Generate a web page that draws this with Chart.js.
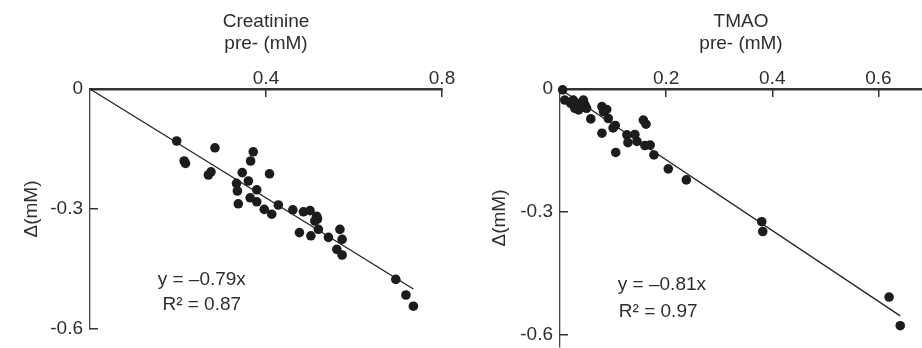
<!DOCTYPE html>
<html>
<head>
<meta charset="utf-8">
<script src="https://cdn.jsdelivr.net/npm/chart.js@4"></script>
<style>
  html, body { margin:0; padding:0; background:#fff; }
  #wrap { position:relative; width:922px; height:348px; overflow:hidden; }
  #wrap canvas { position:absolute; top:0; }
</style>
</head>
<body>
<div id="wrap">
  <canvas id="creatChart" width="461" height="348" style="left:0;"></canvas>
  <canvas id="tmaoChart" width="461" height="348" style="left:461px;"></canvas>
</div>
<script>
// ─── DATA ──────────────────────────────────────────────────
const creatX = [0.197, 0.214, 0.217, 0.284, 0.269, 0.275, 0.371, 0.365, 0.346, 0.408,
                0.333, 0.360, 0.335, 0.379, 0.364, 0.337, 0.379, 0.396, 0.413, 0.428,
                0.461, 0.476, 0.485, 0.500, 0.515, 0.517, 0.511, 0.502, 0.519, 0.542,
                0.568, 0.573, 0.561, 0.573, 0.695, 0.718, 0.735];
const creatY = [-0.130, -0.180, -0.186, -0.147, -0.215, -0.207, -0.157, -0.180, -0.209, -0.212,
                -0.236, -0.230, -0.255, -0.252, -0.272, -0.287, -0.282, -0.301, -0.313, -0.290,
                -0.302, -0.359, -0.307, -0.304, -0.318, -0.325, -0.330, -0.367, -0.351, -0.371,
                -0.351, -0.376, -0.401, -0.415, -0.476, -0.515, -0.543];
const creatFitX = [0, 0.735];
const creatFitY = [0, -0.50];

const tmaoX = [0.005, 0.009, 0.025, 0.031, 0.044, 0.047, 0.028, 0.035, 0.050, 0.058,
               0.079, 0.088, 0.082, 0.091, 0.079, 0.104, 0.105, 0.126, 0.128, 0.141,
               0.145, 0.157, 0.162, 0.160, 0.170, 0.177, 0.204, 0.238, 0.380, 0.382,
               0.620, 0.641, 0.020, 0.040, 0.100];
const tmaoY = [-0.002, -0.027, -0.027, -0.035, -0.027, -0.039, -0.047, -0.051, -0.047, -0.073,
               -0.043, -0.050, -0.055, -0.072, -0.108, -0.089, -0.155, -0.112, -0.131, -0.111,
               -0.128, -0.076, -0.086, -0.138, -0.137, -0.161, -0.195, -0.222, -0.324, -0.348,
               -0.508, -0.578, -0.035, -0.042, -0.095];
const tmaoFitX = [0, 0.641];
const tmaoFitY = [0, -0.554];

const creatXTicks = [0.4, 0.8];
const tmaoXTicks  = [0.2, 0.4, 0.6];
const yTicks      = [0, -0.3, -0.6];

// ─── PANEL ─────────────────────────────────────────────────
const FONT = 'Liberation Sans, Arial, Helvetica, sans-serif';
const INK  = '#2e2e2e';

function toPoints(xs, ys) {
  return xs.map((x, i) => ({ x, y: ys[i] }));
}

function makePanel(id, p) {
  const eqnPlugin = {
    id: 'eqn',
    afterDraw(chart) {
      const { ctx, scales: { x, y } } = chart;
      ctx.save();
      ctx.fillStyle = INK;
      ctx.font = `19px ${FONT}`;
      ctx.textAlign = 'center';
      ctx.textBaseline = 'middle';
      p.eqn.forEach(e => ctx.fillText(e.text, x.getPixelForValue(e.x), y.getPixelForValue(e.y)));
      ctx.restore();
    },
  };

  new Chart(document.getElementById(id), {
    type: 'scatter',
    data: {
      datasets: [
        {
          data: toPoints(p.xs, p.ys),
          backgroundColor: '#1c1c1c',
          borderWidth: 0,
          pointRadius: 4.8,
          clip: false,
        },
        {
          type: 'line',
          data: toPoints(p.fitX, p.fitY),
          borderColor: '#222',
          borderWidth: 1.3,
          pointRadius: 0,
          fill: false,
          clip: false,
        },
      ],
    },
    options: {
      responsive: false,
      animation: false,
      events: [],
      layout: { autoPadding: false, padding: { left: 0, top: 0, right: p.padRight, bottom: p.padBottom } },
      plugins: { legend: { display: false }, tooltip: { enabled: false } },
      scales: {
        x: {
          type: 'linear',
          position: 'top',
          min: 0,
          max: p.xMax,
          afterBuildTicks: s => { s.ticks = p.xTicks.map(v => ({ value: v })); },
          afterFit: s => { s.height = 89; s.paddingLeft = 0; s.paddingRight = 0; },
          border: { display: true, color: '#333', width: 2.6 },
          grid: { drawOnChartArea: false, drawTicks: true, tickLength: -8, color: '#333', lineWidth: 1.5 },
          ticks: { color: INK, padding: 7, maxRotation: 0, font: { family: FONT, size: 19 }, callback: v => String(v) },
          title: {
            display: true,
            text: p.xTitle,
            color: INK,
            font: { family: FONT, size: 19, lineHeight: 1.15 },
            padding: { top: 11, bottom: 0 },
          },
        },
        y: {
          type: 'linear',
          position: 'left',
          min: p.yMin,
          max: 0,
          afterBuildTicks: s => { s.ticks = yTicks.map(v => ({ value: v })); },
          afterFit: s => { s.width = p.yWidth; s.paddingTop = 0; s.paddingBottom = 0; },
          border: { display: true, color: '#444', width: 1.3 },
          grid: { drawOnChartArea: false, drawTicks: true, tickLength: -8, color: '#333', lineWidth: 1.5 },
          ticks: { color: INK, padding: 15, font: { family: FONT, size: 19 }, callback: v => String(v) },
          title: {
            display: true,
            text: 'Δ(mM)',
            color: INK,
            font: { family: FONT, size: 19, lineHeight: 1.15 },
            padding: { top: p.yTitlePad, bottom: 0 },
          },
        },
      },
    },
    plugins: [eqnPlugin],
  });
}

makePanel('creatChart', {
  xs: creatX, ys: creatY, fitX: creatFitX, fitY: creatFitY,
  xTicks: creatXTicks, xMax: 0.8, yMin: -0.6,
  xTitle: ['Creatinine', 'pre- (mM)'],
  yWidth: 90, yTitlePad: 21, padRight: 19, padBottom: 19,
  eqn: [
    { text: 'y = \u20130.79x', x: 0.254, y: -0.478 },
    { text: 'R\u00b2 = 0.87', x: 0.254, y: -0.54 },
  ],
});

makePanel('tmaoChart', {
  xs: tmaoX, ys: tmaoY, fitX: tmaoFitX, fitY: tmaoFitY,
  xTicks: tmaoXTicks, xMax: 0.682, yMin: -0.63,
  xTitle: ['TMAO', 'pre- (mM)'],
  yWidth: 99, yTitlePad: 28, padRight: 0, padBottom: 1,
  eqn: [
    { text: 'y = \u20130.81x', x: 0.192, y: -0.478 },
    { text: 'R\u00b2 = 0.97', x: 0.185, y: -0.543 },
  ],
});
</script>
</body>
</html>
